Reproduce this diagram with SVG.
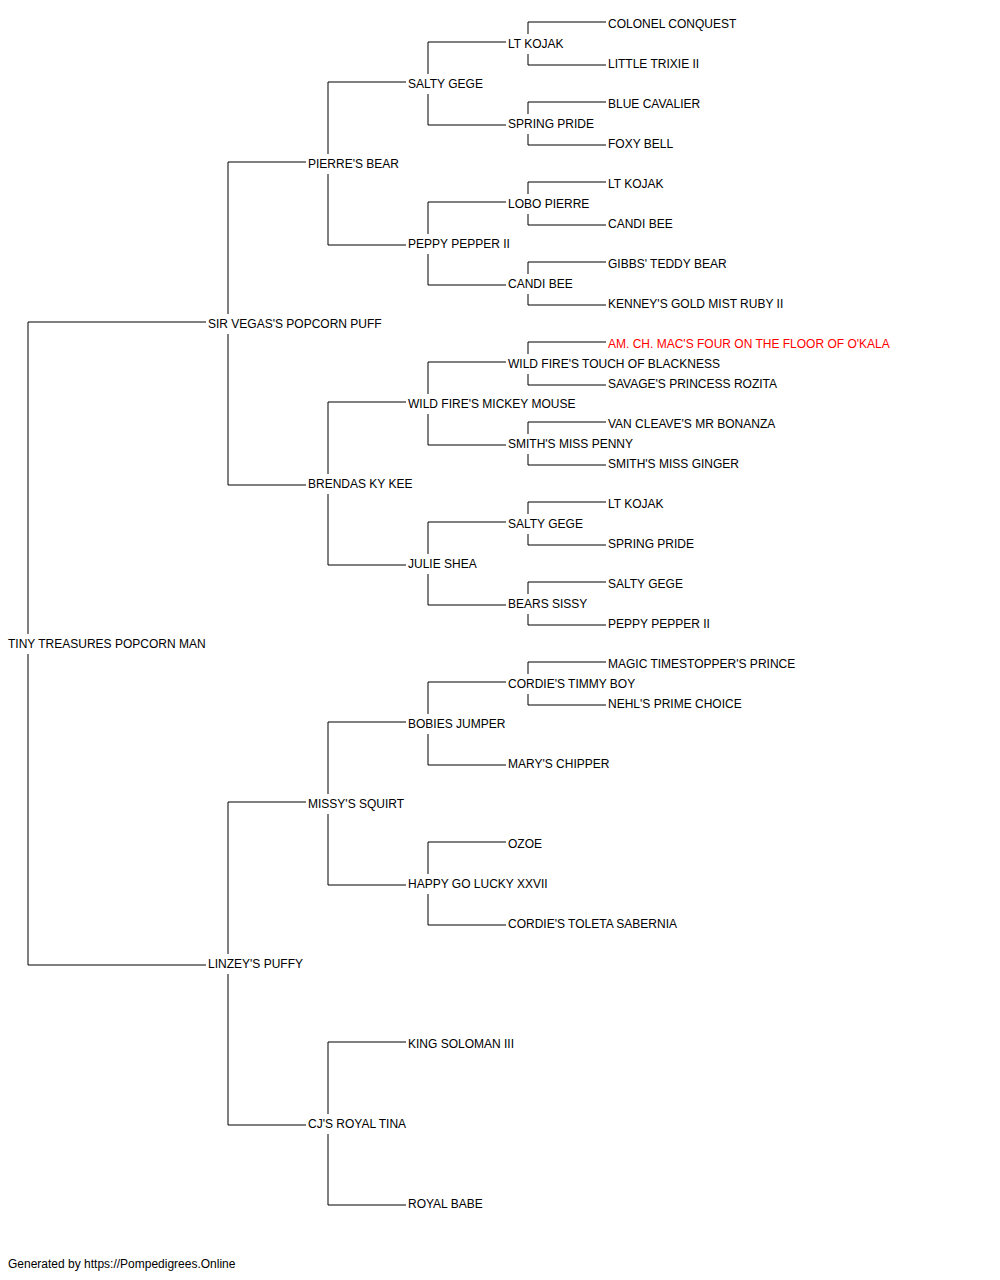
<svg xmlns="http://www.w3.org/2000/svg" width="1000" height="1280" viewBox="0 0 1000 1280">
<style>
text{font-family:"Liberation Sans",Arial,sans-serif;font-size:12px;fill:#000}
.red{fill:#ff0000}
#connectors path{fill:none;stroke:#000;stroke-width:1}
</style>
<rect width="1000" height="1280" fill="#fff"/>
<g id="connectors">
<path d="M28,634V322H206M28,654V965H206"/>
<path d="M228,314V162H306M228,334V485H306"/>
<path d="M228,954V802H306M228,974V1125H306"/>
<path d="M328,154V82H406M328,174V245H406"/>
<path d="M328,474V402H406M328,494V565H406"/>
<path d="M328,794V722H406M328,814V885H406"/>
<path d="M328,1114V1042H406M328,1134V1205H406"/>
<path d="M428,74V42H506M428,94V125H506"/>
<path d="M428,234V202H506M428,254V285H506"/>
<path d="M428,394V362H506M428,414V445H506"/>
<path d="M428,554V522H506M428,574V605H506"/>
<path d="M428,714V682H506M428,734V765H506"/>
<path d="M428,874V842H506M428,894V925H506"/>
<path d="M528,34V22H606M528,54V65H606"/>
<path d="M528,114V102H606M528,134V145H606"/>
<path d="M528,194V182H606M528,214V225H606"/>
<path d="M528,274V262H606M528,294V305H606"/>
<path d="M528,354V342H606M528,374V385H606"/>
<path d="M528,434V422H606M528,454V465H606"/>
<path d="M528,514V502H606M528,534V545H606"/>
<path d="M528,594V582H606M528,614V625H606"/>
<path d="M528,674V662H606M528,694V705H606"/>
</g>
<g id="n-root"><text x="8" y="648">TINY TREASURES POPCORN MAN</text></g>
<g id="n-s"><text x="208" y="328">SIR VEGAS'S POPCORN PUFF</text></g>
<g id="n-d"><text x="208" y="968">LINZEY'S PUFFY</text></g>
<g id="n-ss"><text x="308" y="168">PIERRE'S BEAR</text></g>
<g id="n-sd"><text x="308" y="488">BRENDAS KY KEE</text></g>
<g id="n-ds"><text x="308" y="808">MISSY'S SQUIRT</text></g>
<g id="n-dd"><text x="308" y="1128">CJ'S ROYAL TINA</text></g>
<g id="n-sss"><text x="408" y="88">SALTY GEGE</text></g>
<g id="n-ssd"><text x="408" y="248">PEPPY PEPPER II</text></g>
<g id="n-sds"><text x="408" y="408">WILD FIRE'S MICKEY MOUSE</text></g>
<g id="n-sdd"><text x="408" y="568">JULIE SHEA</text></g>
<g id="n-dss"><text x="408" y="728">BOBIES JUMPER</text></g>
<g id="n-dsd"><text x="408" y="888">HAPPY GO LUCKY XXVII</text></g>
<g id="n-dds"><text x="408" y="1048">KING SOLOMAN III</text></g>
<g id="n-ddd"><text x="408" y="1208">ROYAL BABE</text></g>
<g id="n-ssss"><text x="508" y="48">LT KOJAK</text></g>
<g id="n-sssd"><text x="508" y="128">SPRING PRIDE</text></g>
<g id="n-ssds"><text x="508" y="208">LOBO PIERRE</text></g>
<g id="n-ssdd"><text x="508" y="288">CANDI BEE</text></g>
<g id="n-sdss"><text x="508" y="368">WILD FIRE'S TOUCH OF BLACKNESS</text></g>
<g id="n-sdsd"><text x="508" y="448">SMITH'S MISS PENNY</text></g>
<g id="n-sdds"><text x="508" y="528">SALTY GEGE</text></g>
<g id="n-sddd"><text x="508" y="608">BEARS SISSY</text></g>
<g id="n-dsss"><text x="508" y="688">CORDIE'S TIMMY BOY</text></g>
<g id="n-dssd"><text x="508" y="768">MARY'S CHIPPER</text></g>
<g id="n-dsds"><text x="508" y="848">OZOE</text></g>
<g id="n-dsdd"><text x="508" y="928">CORDIE'S TOLETA SABERNIA</text></g>
<g id="n-sssss"><text x="608" y="28">COLONEL CONQUEST</text></g>
<g id="n-ssssd"><text x="608" y="68">LITTLE TRIXIE II</text></g>
<g id="n-sssds"><text x="608" y="108">BLUE CAVALIER</text></g>
<g id="n-sssdd"><text x="608" y="148">FOXY BELL</text></g>
<g id="n-ssdss"><text x="608" y="188">LT KOJAK</text></g>
<g id="n-ssdsd"><text x="608" y="228">CANDI BEE</text></g>
<g id="n-ssdds"><text x="608" y="268">GIBBS' TEDDY BEAR</text></g>
<g id="n-ssddd"><text x="608" y="308">KENNEY'S GOLD MIST RUBY II</text></g>
<g id="n-sdsss"><text class="red" x="608" y="348">AM. CH. MAC'S FOUR ON THE FLOOR OF O'KALA</text></g>
<g id="n-sdssd"><text x="608" y="388">SAVAGE'S PRINCESS ROZITA</text></g>
<g id="n-sdsds"><text x="608" y="428">VAN CLEAVE'S MR BONANZA</text></g>
<g id="n-sdsdd"><text x="608" y="468">SMITH'S MISS GINGER</text></g>
<g id="n-sddss"><text x="608" y="508">LT KOJAK</text></g>
<g id="n-sddsd"><text x="608" y="548">SPRING PRIDE</text></g>
<g id="n-sddds"><text x="608" y="588">SALTY GEGE</text></g>
<g id="n-sdddd"><text x="608" y="628">PEPPY PEPPER II</text></g>
<g id="n-dssss"><text x="608" y="668">MAGIC TIMESTOPPER'S PRINCE</text></g>
<g id="n-dsssd"><text x="608" y="708">NEHL'S PRIME CHOICE</text></g>
<g id="footer"><text x="8" y="1268">Generated by https://Pompedigrees.Online</text></g>
</svg>
